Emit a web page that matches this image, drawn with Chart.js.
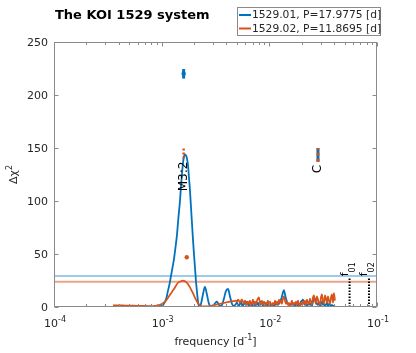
<!DOCTYPE html>
<html><head><meta charset="utf-8">
<script src="https://cdn.jsdelivr.net/npm/chart.js@4/dist/chart.umd.min.js"></script>
<style>html,body{margin:0;padding:0;background:#fff;overflow:hidden}canvas{display:block}</style>
</head><body>
<canvas id="c" width="416" height="353"></canvas>
<script>
// ---------------- data ----------------
const chartTitle = 'The KOI 1529 system';
const seriesNames = ['1529.01, P=17.9775 [d]', '1529.02, P=11.8695 [d]'];
const periods = [17.9775, 11.8695];
const fLabels = ['01', '02'];
const thresholds = [29.3, 23.8];          // blue, orange significance levels
const fLineTop = 28;
const yTicks = [0, 50, 100, 150, 200, 250];
const xTickExps = [-4, -3, -2, -1];

const noiseFreq = [
  0.004900,0.005006,0.005114,0.005225,0.005337,0.005453,0.005570,0.005691,0.005814,0.005939,
  0.006068,0.006199,0.006333,0.006470,0.006609,0.006752,0.006898,0.007047,0.007199,0.007355,
  0.007514,0.007676,0.007842,0.008012,0.008185,0.008362,0.008542,0.008727,0.008915,0.009108,
  0.009305,0.009507,0.009712,0.009922,0.010136,0.010355,0.010579,0.010808,0.011041,0.011280,
  0.011524,0.011773,0.012028,0.012288,0.012553,0.012825,0.013102,0.013385,0.013674,0.013970,
  0.014272,0.014580,0.014895,0.015217,0.015546,0.015882,0.016225,0.016576,0.016934,0.017300,
  0.017674,0.018056,0.018446,0.018845,0.019252,0.019668,0.020093,0.020527,0.020971,0.021424,
  0.021887,0.022360,0.022843,0.023337,0.023841,0.024357,0.024883,0.025421,0.025970,0.026531,
  0.027105,0.027691,0.028289,0.028900,0.029525,0.030163,0.030815,0.031481,0.032161,0.032856,
  0.033566,0.034291,0.035033,0.035790,0.036563,0.037353,0.038160,0.038985,0.039828,0.040688];

const blueLowFreq = [0.000353,0.00040,0.00046,0.00053,0.00060,0.00070,0.00080,0.00088,0.00093,0.000964,
  0.001007,0.00104,0.001074,0.00111,0.001142,0.00118,0.001219,0.00126,0.00130,0.00134,
  0.001387,0.00143,0.001479,0.00151,0.001542,0.001575,0.00161,0.001644,0.001682,0.00172,
  0.001754,0.00179,0.001832,0.00187,0.00191,0.00195,0.001995,0.00204,0.00208,0.00213,
  0.00217,0.00222,0.00227,0.00232,0.00242,0.00252,0.00263,0.00275,0.00287,0.00297,
  0.00306,0.00316,0.00326,0.00340,0.00355,0.00367,0.00379,0.00395,0.00413,0.00431,
  0.00450,0.00469];
const blueLowChi2 = [0.6,0.6,0.5,0.5,0.4,0.3,0.2,0.2,0.3,0.6,
  1.2,2.5,5,9,15,21,29,37,45,55,
  68,84,100,113,125,135,142,144,143,140,
  134,123,110,95,80,65,50,37,25,14,
  6,0.8,0.5,3,12,19,12,3,0.5,1,
  2,4,5,2,0.8,3,8,15,17,10,
  3,1];
const blueNoiseChi2 = [
  3,4,2,1,3,5,2,1,4,3,
  2,5,3,1,2,4,1,3,2,1,
  3,2,4,1,2,5,3,1,2,4,
  2,1,3,2,4,1,2,3,1,2,
  2,4,2,3,5,7,10,14,16,12,
  8,5,3,2,1,2,4,2,3,1,
  2,4,1,3,2,5,6,7,4,2,
  3,1,2,4,2,3,1,5,7,8,
  6,3,2,4,1,3,5,2,3,1,
  2,4,1,3,2,1,2,1,1,0.5];

const orangeLowFreq = [0.000353,0.00040,0.00046,0.00053,0.00060,0.00070,0.00080,0.000867,0.000964,0.001074,
  0.001142,0.00124,0.00132,0.00141,0.00151,0.00158,0.001644,0.001754,0.001832,0.00195,
  0.00208,0.00217,0.00227,0.00237,0.00252,0.00280,0.00312,0.00348,0.00387,0.00431,0.00460];
const orangeLowChi2 = [1.5,1.5,1.4,1.3,1.2,1.0,0.8,1.0,2,5,
  8.5,14,18,22.6,24.3,24.8,24.3,21.7,18.5,13,
  7,3.8,1.5,0.6,0.5,0.8,2,3,4,5,5.5];
const orangeNoiseChi2 = [
  6,5,7,6,4,6,7,5,3,6,
  4,2,5,3,6,2,4,7,3,5,
  2,6,8,9,4,3,6,2,5,3,
  1,4,6,2,5,3,1,4,2,6,
  3,5,2,7,4,6,3,8,10,6,
  3,5,2,4,1,3,6,2,4,3,
  5,2,6,3,1,4,2,5,3,6,
  2,7,4,3,8,5,2,9,11,6,
  3,10,7,4,2,9,12,5,3,11,
  8,4,10,6,3,9,12,4,13,6];

const markFreq = [0.00160, 0.0283];
const markLabels = ['M3:2', 'C'];
const markBarLow = [140, 137];
const markBarHigh = [151, 150];
const blueDot = {f: 0.00160, v: 220, err: 4.5};
const orangeDot = {f: 0.00171, v: 47};

// ---------------- build ----------------
const BLUE = '#0072BD', ORANGE = '#D95319';
const zip = (xs, ys) => xs.map((x, i) => ({x, y: ys[i]}));
const blueData = zip(blueLowFreq.concat(noiseFreq), blueLowChi2.concat(blueNoiseChi2));
const orangeData = zip(orangeLowFreq.concat(noiseFreq), orangeLowChi2.concat(orangeNoiseChi2));
const vseg = (f, a, b) => [{x: f, y: a}, {x: f, y: b}];

const datasets = [
  {data: [{x:1e-4,y:thresholds[0]},{x:1e-1,y:thresholds[0]}], borderColor:'#80b9e0', borderWidth:1.5, order:20},
  {data: [{x:1e-4,y:thresholds[1]},{x:1e-1,y:thresholds[1]}], borderColor:'#eba588', borderWidth:2, order:19},
  {data: blueData, borderColor: BLUE, borderWidth: 1.8, cubicInterpolationMode:'monotone', order:10},
  {data: orangeData, borderColor: ORANGE, borderWidth: 1.7, cubicInterpolationMode:'monotone', order:9},
  {data: vseg(1/periods[0], 0, fLineTop), borderColor:'#000', borderWidth:2, borderDash:[1.5,1.5], order:5},
  {data: vseg(1/periods[1], 0, fLineTop), borderColor:'#000', borderWidth:2, borderDash:[1.5,1.5], order:5},
  {data: vseg(markFreq[0], markBarLow[0], markBarHigh[0]), borderColor:ORANGE, borderWidth:2.5, borderDash:[2,2], order:3},
  {data: vseg(markFreq[1], markBarLow[1], markBarHigh[1]), borderColor:BLUE, borderWidth:3, order:4},
  {data: vseg(markFreq[1], markBarLow[1], markBarHigh[1]), borderColor:ORANGE, borderWidth:3, borderDash:[3,3], order:3},
  {data: vseg(blueDot.f, blueDot.v - blueDot.err, blueDot.v + blueDot.err), borderColor:BLUE, borderWidth:3, order:3},
  {data: [{x: blueDot.f, y: blueDot.v}], showLine:false, pointRadius:2.2, pointBackgroundColor:BLUE, pointBorderWidth:0, order:2},
  {data: [{x: orangeDot.f, y: orangeDot.v}], showLine:false, pointRadius:2.2, pointBackgroundColor:ORANGE, pointBorderWidth:0, order:2}
];
datasets.forEach(d => { if (d.pointRadius === undefined) d.pointRadius = 0; d.fill = false; });

const FONT = '"DejaVu Sans"';
const TXT = '#262626';

function drawParts(ctx, parts, x, y, align) {
  let total = 0;
  parts.forEach(p => { ctx.font = (p.bold?'bold ':'') + p.size + 'px ' + FONT; p.w = ctx.measureText(p.t).width; total += p.w; });
  let cx = align === 'center' ? x - total/2 : (align === 'right' ? x - total : x);
  ctx.textAlign = 'left';
  parts.forEach(p => { ctx.font = (p.bold?'bold ':'') + p.size + 'px ' + FONT; ctx.fillText(p.t, cx, y + (p.dy||0)); cx += p.w; });
}

const axesPlugin = {
  id: 'axesDeco',
  afterDraw(chart) {
    const {ctx, chartArea: a, scales: {x, y}} = chart;
    ctx.save();
    const L = Math.round(a.left) + 0.5, R = Math.round(a.right) - 0.5;
    const T = Math.round(a.top) + 0.5, B = Math.round(a.bottom) - 0.5;
    ctx.strokeStyle = '#8a8a8a'; ctx.lineWidth = 1;
    ctx.strokeRect(L, T, R - L, B - T);
    ctx.beginPath();
    yTicks.forEach(v => {
      const py = Math.round(y.getPixelForValue(v)) + 0.5;
      ctx.moveTo(L, py); ctx.lineTo(L + 4, py);
      ctx.moveTo(R, py); ctx.lineTo(R - 4, py);
    });
    xTickExps.forEach((e, i) => {
      const px = Math.round(x.getPixelForValue(Math.pow(10, e))) + 0.5;
      ctx.moveTo(px, B); ctx.lineTo(px, B - 4);
      ctx.moveTo(px, T); ctx.lineTo(px, T + 4);
      if (i < xTickExps.length - 1) {
        for (let k = 2; k <= 9; k++) {
          const qx = Math.round(x.getPixelForValue(k * Math.pow(10, e))) + 0.5;
          ctx.moveTo(qx, B); ctx.lineTo(qx, B - 2.5);
          ctx.moveTo(qx, T); ctx.lineTo(qx, T + 2.5);
        }
      }
    });
    ctx.stroke();

    ctx.fillStyle = TXT;
    ctx.textBaseline = 'alphabetic';
    ctx.font = '11px ' + FONT; ctx.textAlign = 'right';
    yTicks.forEach(v => ctx.fillText(String(v), a.left - 6, y.getPixelForValue(v) + 4));
    xTickExps.forEach(e => {
      const px = x.getPixelForValue(Math.pow(10, e));
      drawParts(ctx, [{t:'10', size:11}, {t:String(e), size:8, dy:-5}], px + 1, a.bottom + 20, 'center');
    });
    drawParts(ctx, [{t:'frequency [d', size:11}, {t:'-1', size:8, dy:-5}, {t:']', size:11}], (a.left + a.right)/2, a.bottom + 38, 'center');
    ctx.save();
    ctx.translate(17, (a.top + a.bottom)/2);
    ctx.rotate(-Math.PI/2);
    drawParts(ctx, [{t:'\u0394\u03c7', size:11}, {t:'2', size:8, dy:-5}], 0, 0, 'center');
    ctx.restore();
    ctx.fillStyle = '#000';
    drawParts(ctx, [{t:chartTitle, size:13, bold:true}], 55, 19, 'left');

    markFreq.forEach((f, i) => {
      ctx.save();
      ctx.translate(x.getPixelForValue(f), y.getPixelForValue(markBarLow[i]) + 3);
      ctx.rotate(-Math.PI/2);
      ctx.font = '12px ' + FONT; ctx.textAlign = 'right'; ctx.textBaseline = 'middle';
      ctx.fillText(markLabels[i], 0, 0);
      ctx.restore();
    });
    ctx.textBaseline = 'alphabetic';
    periods.forEach((p, i) => {
      ctx.save();
      ctx.translate(x.getPixelForValue(1/p), y.getPixelForValue(fLineTop) - 1);
      ctx.rotate(-Math.PI/2);
      drawParts(ctx, [{t:'f', size:11, dy:-2}, {t:fLabels[i], size:8, dy:5}], 0, 0, 'left');
      ctx.restore();
    });

    const lx = 237.5, ly = 7.5, lw = 143, lh = 28;
    ctx.fillStyle = '#fff'; ctx.fillRect(lx, ly, lw, lh);
    ctx.strokeStyle = '#8a8a8a'; ctx.lineWidth = 1; ctx.strokeRect(lx, ly, lw, lh);
    [BLUE, ORANGE].forEach((c, i) => {
      const ry = 15 + i * 13.5;
      ctx.strokeStyle = c; ctx.lineWidth = 2;
      ctx.beginPath(); ctx.moveTo(239, ry); ctx.lineTo(251, ry); ctx.stroke();
      ctx.fillStyle = TXT; ctx.font = '10.7px ' + FONT; ctx.textAlign = 'left'; ctx.textBaseline = 'middle';
      ctx.fillText(seriesNames[i], 252, ry + 0.5);
    });
    ctx.restore();
  }
};

new Chart(document.getElementById('c').getContext('2d'), {
  type: 'line',
  data: {datasets},
  options: {
    responsive: false, animation: false, devicePixelRatio: 1,
    layout: {padding: {left: 54, right: 39, top: 42, bottom: 46}},
    scales: {
      x: {type: 'logarithmic', min: 1e-4, max: 1e-1, display: false},
      y: {type: 'linear', min: 0, max: 250, display: false}
    },
    plugins: {legend: {display: false}, tooltip: {enabled: false}},
    elements: {line: {tension: 0}}
  },
  plugins: [axesPlugin]
});
</script>
</body></html>
